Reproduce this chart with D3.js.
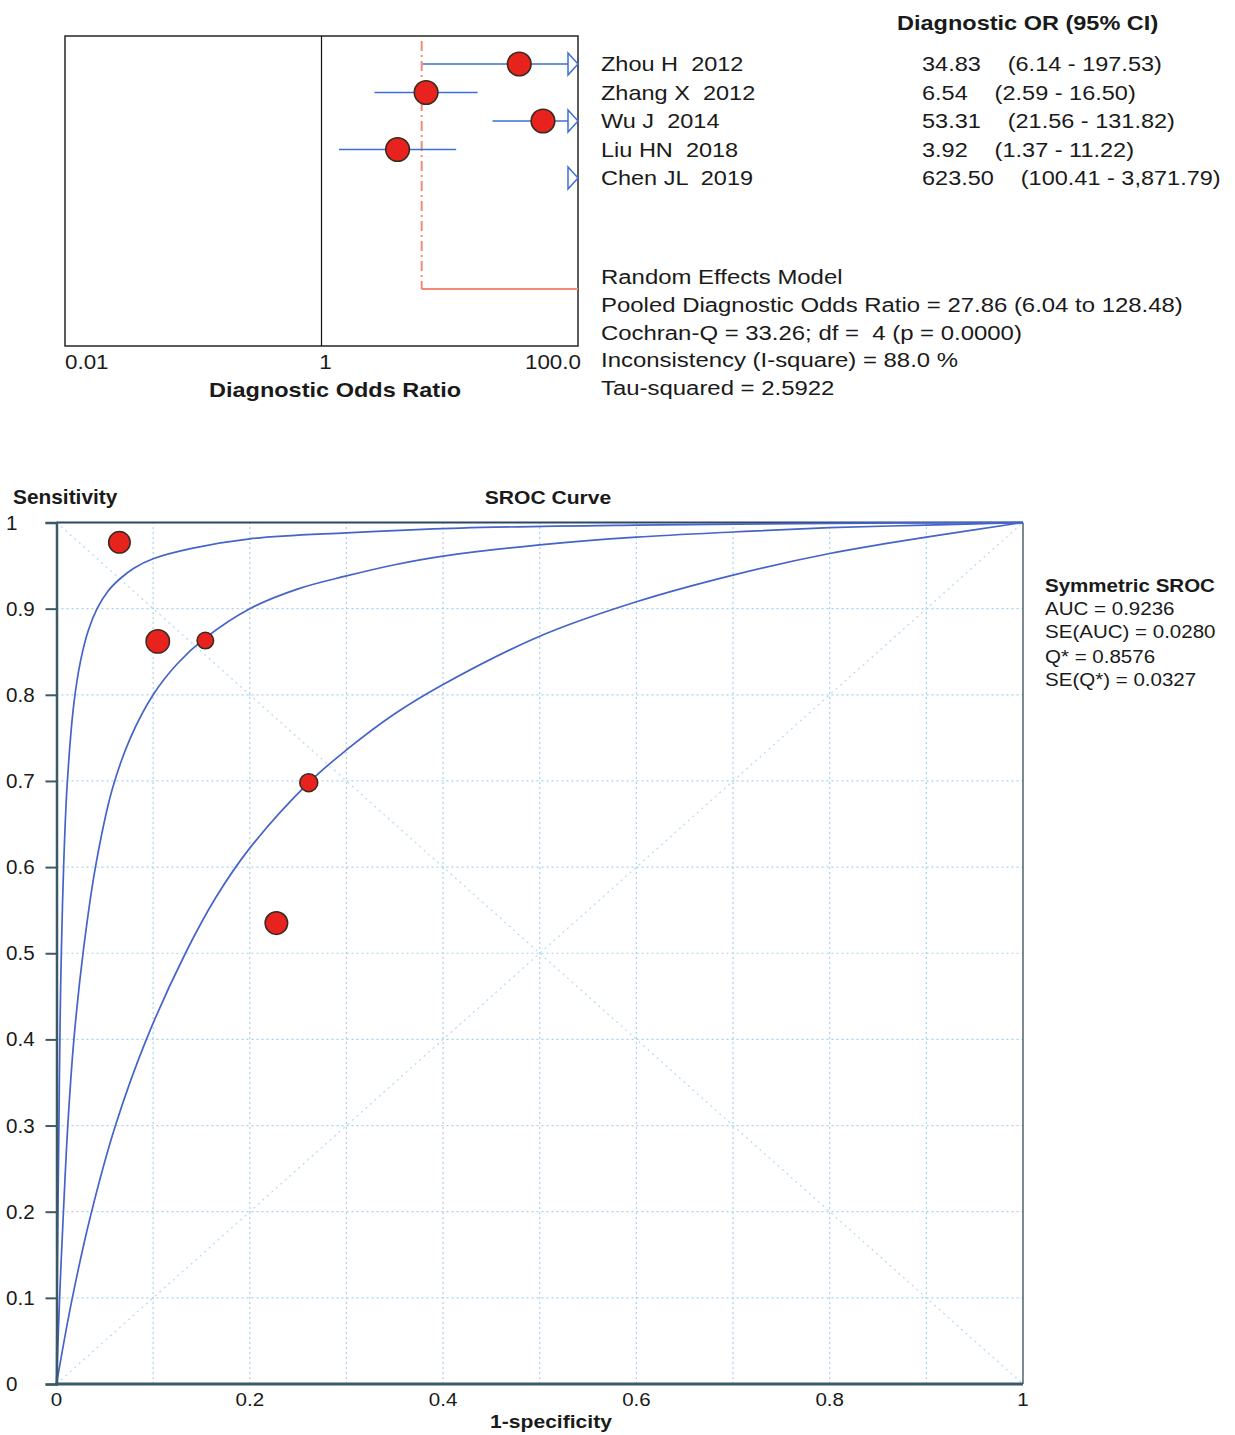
<!DOCTYPE html>
<html>
<head>
<meta charset="utf-8">
<script src="https://cdn.jsdelivr.net/npm/d3@7"></script>
<style>
  body { margin: 0; background: #fff; }
  svg { font-family: "Liberation Sans", Arial, sans-serif; }
  text { fill: #1a1a1a; white-space: pre; }
</style>
</head>
<body>
<svg id="chart" width="1235" height="1435"></svg>
<script>
// forest plot data
const studies = ["Zhou H  2012", "Zhang X  2012", "Wu J  2014", "Liu HN  2018", "Chen JL  2019"];
const dor = [34.83, 6.54, 53.31, 3.92, 623.5];
const ciLow = [6.14, 2.59, 21.56, 1.37, 100.41];
const ciHigh = [197.53, 16.5, 131.82, 11.22, 3871.79];
const forestTicks = [0.01, 1, 100];
const forestTickLabels = ["0.01", "1", "100.0"];

const pooledDOR = 27.86, pooledLow = 6.04, pooledHigh = 128.48;
const cochranQ = 33.26, cochranDf = 4, cochranP = "0.0000";
const iSquare = 88.0, tauSquared = 2.5922;

// SROC data: study points (1-specificity, sensitivity) and relative weight
const studyFpr = [0.154, 0.261, 0.1048, 0.2275, 0.0651];
const studySens = [0.863, 0.698, 0.862, 0.535, 0.977];
const studyWeight = [0.5, 0.59, 1.0, 0.93, 0.85];

// curves
const fprA = [0, 0.0006, 0.0015, 0.0025, 0.0037, 0.005, 0.0075, 0.011, 0.018, 0.025, 0.033, 0.042, 0.053, 0.066, 0.08, 0.1, 0.14, 0.2, 0.3, 0.418, 0.6, 0.8, 1];
const sensA = [0, 0.1, 0.2, 0.3, 0.42, 0.5, 0.605, 0.695, 0.79, 0.84, 0.875, 0.9, 0.92, 0.935, 0.947, 0.958, 0.97, 0.981, 0.988, 0.9935, 0.997, 0.999, 1];
const fprB = [0, 0.0034, 0.0076, 0.0117, 0.018, 0.028, 0.0403, 0.0576, 0.0765, 0.1, 0.125, 0.154, 0.2, 0.25, 0.3, 0.35, 0.4, 0.5, 0.6, 0.7, 0.8, 0.9, 1];
const sensB = [0, 0.105, 0.21, 0.3, 0.4, 0.505, 0.6, 0.69, 0.75, 0.8, 0.836, 0.866, 0.9, 0.923, 0.938, 0.951, 0.961, 0.974, 0.983, 0.989, 0.994, 0.997, 1];
const fprC = [0, 0.0155, 0.0352, 0.061, 0.093, 0.1334, 0.165, 0.2, 0.261, 0.3, 0.35, 0.4, 0.5, 0.6, 0.7, 0.8, 0.9, 1];
const sensC = [0, 0.095, 0.195, 0.3, 0.4, 0.5, 0.565, 0.622, 0.698, 0.736, 0.778, 0.812, 0.868, 0.908, 0.939, 0.964, 0.983, 1];

const xTicks = [0, 0.2, 0.4, 0.6, 0.8, 1];
const xTickLabels = ["0", "0.2", "0.4", "0.6", "0.8", "1"];
const yTicks = [0, 0.1, 0.2, 0.3, 0.4, 0.5, 0.6, 0.7, 0.8, 0.9, 1];
const yTickLabels = ["0", "0.1", "0.2", "0.3", "0.4", "0.5", "0.6", "0.7", "0.8", "0.9", "1"];
const gridSteps = [0.1, 0.2, 0.3, 0.4, 0.5, 0.6, 0.7, 0.8, 0.9];

const auc = "0.9236", seAuc = "0.0280", qStar = "0.8576", seQ = "0.0327";

const svg = d3.select("#chart");
const fmt = d3.format(",.2f");

// text helper, the source picture is a bit stretched sideways
function txt(g, x, y, s, o) {
  return g.append("text")
    .attr("xml:space", "preserve")
    .attr("transform", `translate(${x},${y}) scale(${o.sx || 1},1)`)
    .attr("text-anchor", o.anchor || "start")
    .style("font-size", o.size + "px")
    .style("font-weight", o.bold ? "bold" : "normal")
    .text(s);
}

// ---------- forest plot ----------
const forest = svg.append("g");
const fx = d3.scaleLog().domain([0.01, 100]).range([65, 578]);
const fy = d3.scaleLinear().domain([0, 4]).range([64, 178]);
const boxTop = 36, boxBottom = 346, pooledY = 289;
const SX = 1.12;

forest.append("rect")
  .attr("x", fx(0.01)).attr("y", boxTop)
  .attr("width", fx(100) - fx(0.01)).attr("height", boxBottom - boxTop)
  .attr("fill", "none").attr("stroke", "#333").attr("stroke-width", 1.6);

forest.append("line")
  .attr("x1", fx(1)).attr("x2", fx(1)).attr("y1", boxTop).attr("y2", boxBottom)
  .attr("stroke", "#111").attr("stroke-width", 1.2);

// pooled estimate
forest.append("line")
  .attr("x1", fx(pooledLow)).attr("x2", fx(pooledLow))
  .attr("y1", boxTop + 5).attr("y2", pooledY)
  .attr("stroke", "#f28b74").attr("stroke-width", 2)
  .attr("stroke-dasharray", "10,4,2,4");
forest.append("line")
  .attr("x1", fx(pooledLow)).attr("x2", fx(Math.min(pooledHigh, 100)))
  .attr("y1", pooledY).attr("y2", pooledY)
  .attr("stroke", "#f28b74").attr("stroke-width", 1.8);

studies.forEach((s, i) => {
  const y = fy(i);
  const over = ciHigh[i] > 100;
  const xEnd = over ? fx(100) - 10 : fx(ciHigh[i]);
  if (ciLow[i] < 100) {
    forest.append("line")
      .attr("x1", fx(Math.max(ciLow[i], 0.01))).attr("x2", xEnd)
      .attr("y1", y).attr("y2", y)
      .attr("stroke", "#3d6fd6").attr("stroke-width", 1.6);
  }
  if (over) {
    forest.append("path")
      .attr("d", `M${fx(100) - 10},${y - 11}L${fx(100)},${y}L${fx(100) - 10},${y + 11}Z`)
      .attr("fill", "#fff").attr("stroke", "#3d6fd6").attr("stroke-width", 1.5);
  }
  if (dor[i] <= 100) {
    forest.append("circle")
      .attr("cx", fx(dor[i])).attr("cy", y).attr("r", 11.8)
      .attr("fill", "#e8221c").attr("stroke", "#3a2a22").attr("stroke-width", 1.6);
  }
  txt(forest, 601, y + 7, s, { size: 21, sx: SX });
  const t = txt(forest, 922, y + 7, fmt(dor[i]), { size: 21, sx: SX });
  t.append("tspan").attr("dx", 24).text(`(${fmt(ciLow[i])} - ${fmt(ciHigh[i])})`);
});

txt(forest, 897, 30, "Diagnostic OR (95% CI)", { size: 21, sx: SX, bold: true });

forestTicks.forEach((v, i) => {
  const anchor = i === 0 ? "start" : i === forestTicks.length - 1 ? "end" : "middle";
  const dx = i === 0 ? 0 : i === forestTicks.length - 1 ? 3 : 4;
  txt(forest, fx(v) + dx, 369, forestTickLabels[i], { size: 20, sx: SX, anchor: anchor });
});
txt(forest, 335, 397, "Diagnostic Odds Ratio", { size: 21, sx: SX, bold: true, anchor: "middle" });

const stats = [
  "Random Effects Model",
  `Pooled Diagnostic Odds Ratio = ${pooledDOR.toFixed(2)} (${pooledLow.toFixed(2)} to ${pooledHigh.toFixed(2)})`,
  `Cochran-Q = ${cochranQ.toFixed(2)}; df =  ${cochranDf} (p = ${cochranP})`,
  `Inconsistency (I-square) = ${iSquare.toFixed(1)} %`,
  `Tau-squared = ${tauSquared.toFixed(4)}`
];
const statY = d3.scaleLinear().domain([0, 4]).range([284, 395]);
stats.forEach((s, i) => txt(forest, 601, statY(i), s, { size: 21, sx: 1.14 }));

// ---------- SROC plot ----------
const sroc = svg.append("g");
const sx = d3.scaleLinear().domain([0, 1]).range([56.5, 1023]);
const sy = d3.scaleLinear().domain([0, 1]).range([1384, 522.5]);
const BX = 1.11;

// grid
sroc.selectAll(".vgrid").data(gridSteps).enter().append("line")
  .attr("x1", d => sx(d)).attr("x2", d => sx(d))
  .attr("y1", sy(0)).attr("y2", sy(1))
  .attr("stroke", "#a6d3ea").attr("stroke-width", 1.2).attr("stroke-dasharray", "2,3");
sroc.selectAll(".hgrid").data(gridSteps).enter().append("line")
  .attr("x1", sx(0)).attr("x2", sx(1))
  .attr("y1", d => sy(d)).attr("y2", d => sy(d))
  .attr("stroke", "#a6d3ea").attr("stroke-width", 1.2).attr("stroke-dasharray", "2,3");

// diagonals
[[0, 0, 1, 1], [0, 1, 1, 0]].forEach(d => {
  sroc.append("line")
    .attr("x1", sx(d[0])).attr("y1", sy(d[1])).attr("x2", sx(d[2])).attr("y2", sy(d[3]))
    .attr("stroke", "#b4def2").attr("stroke-width", 1.3).attr("stroke-dasharray", "2,4");
});

// frame
sroc.append("line").attr("x1", sx(0)).attr("x2", sx(1)).attr("y1", sy(1)).attr("y2", sy(1))
  .attr("stroke", "#2c4862").attr("stroke-width", 2);
sroc.append("line").attr("x1", sx(1)).attr("x2", sx(1)).attr("y1", sy(1)).attr("y2", sy(0))
  .attr("stroke", "#5c6c74").attr("stroke-width", 1.6);

// curves
const line = d3.line().x(d => sx(d[0])).y(d => sy(d[1])).curve(d3.curveCatmullRom.alpha(0.5));
[[fprA, sensA], [fprB, sensB], [fprC, sensC]].forEach(c => {
  sroc.append("path")
    .attr("d", line(d3.zip(c[0], c[1])))
    .attr("fill", "none").attr("stroke", "#4563c9").attr("stroke-width", 1.7);
});

// axes
const yAxis = d3.axisLeft(sy).tickValues(yTicks).tickSize(11).tickFormat("");
sroc.append("g").attr("transform", `translate(${sx(0)},0)`).call(yAxis)
  .call(g => g.selectAll("line").attr("stroke", "#3b5a66").attr("stroke-width", 2))
  .call(g => g.select(".domain").attr("stroke", "#3b5a66").attr("stroke-width", 2.5));
sroc.append("line").attr("x1", sx(0) - 1).attr("x2", sx(1)).attr("y1", sy(0)).attr("y2", sy(0))
  .attr("stroke", "#3b5a66").attr("stroke-width", 2.8);

// study points
const rScale = d3.scaleSqrt().domain([0, 1]).range([0, 11.7]);
studyFpr.forEach((f, i) => {
  sroc.append("circle")
    .attr("cx", sx(f)).attr("cy", sy(studySens[i])).attr("r", rScale(studyWeight[i]))
    .attr("fill", "#e8221c").attr("stroke", "#3a2a22").attr("stroke-width", 1.5);
});

yTicks.forEach((v, i) => txt(sroc, 6, sy(v) + 7, yTickLabels[i], { size: 20, sx: 1.03 }));
xTicks.forEach((v, i) => txt(sroc, sx(v), 1406, xTickLabels[i], { size: 18.5, sx: BX, anchor: "middle" }));

txt(sroc, 13, 504, "Sensitivity", { size: 19.5, sx: 1.07, bold: true });
txt(sroc, 548, 504, "SROC Curve", { size: 19, sx: BX, bold: true, anchor: "middle" });
txt(sroc, 551, 1428, "1-specificity", { size: 19, sx: BX, bold: true, anchor: "middle" });

txt(sroc, 1045, 592, "Symmetric SROC", { size: 18.5, sx: BX, bold: true });
const legend = [`AUC = ${auc}`, `SE(AUC) = ${seAuc}`, `Q* = ${qStar}`, `SE(Q*) = ${seQ}`];
const legY = [615, 638, 663, 686];
legend.forEach((s, i) => txt(sroc, 1045, legY[i], s, { size: 18.5, sx: BX }));
</script>
</body>
</html>
